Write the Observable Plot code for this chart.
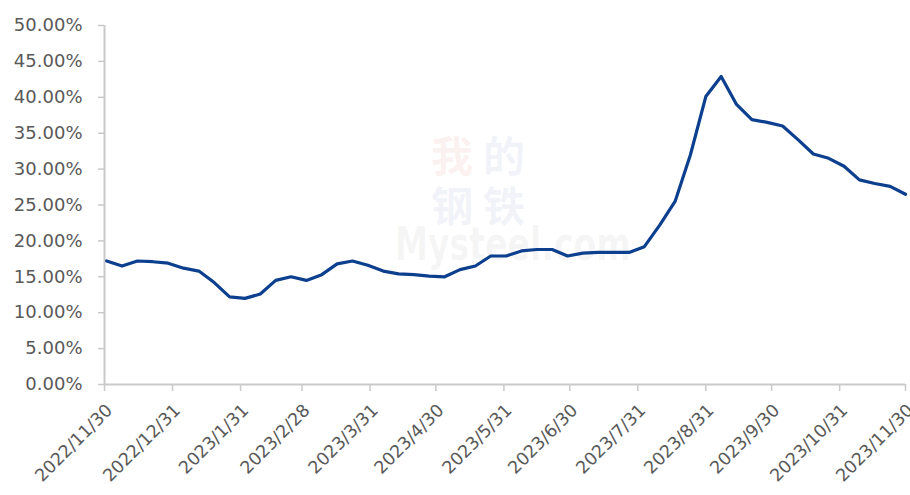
<!DOCTYPE html>
<html>
<head>
<meta charset="utf-8">
<script src="https://cdn.jsdelivr.net/npm/d3@7"></script>
<script src="https://cdn.jsdelivr.net/npm/@observablehq/plot@0.6"></script>
<style>
  html, body { margin: 0; padding: 0; background: #fff; }
  #wrap { position: relative; width: 910px; height: 495px; overflow: hidden; }
  .wm { position: absolute; pointer-events: none; font-family: "Noto Sans CJK SC", sans-serif; font-weight: bold; font-size: 42px; line-height: 42px; }
</style>
</head>
<body>
<div id="wrap">
  <div class="wm" style="left:431px;top:133px;color:rgba(225,110,110,0.10);">我</div>
  <div class="wm" style="left:483px;top:133px;color:rgba(110,130,185,0.10);">的</div>
  <div class="wm" style="left:431px;top:183px;color:rgba(110,130,185,0.10);">钢</div>
  <div class="wm" style="left:483px;top:183px;color:rgba(110,130,185,0.10);">铁</div>
  <div class="wm" style="left:395px;top:232px;font-family:'DejaVu Sans',sans-serif;font-size:46px;line-height:24px;transform:scaleX(0.72);transform-origin:left top;color:rgba(150,150,150,0.09);">Mysteel.com</div>
</div>
<script>
const dates = ["2022-12-01","2022-12-08","2022-12-15","2022-12-22","2022-12-29",
  "2023-01-05","2023-01-12","2023-01-19","2023-01-26",
  "2023-02-02","2023-02-09","2023-02-16","2023-02-23",
  "2023-03-02","2023-03-09","2023-03-16","2023-03-23","2023-03-30",
  "2023-04-06","2023-04-13","2023-04-20","2023-04-27",
  "2023-05-04","2023-05-11","2023-05-18","2023-05-25",
  "2023-06-01","2023-06-08","2023-06-15","2023-06-22","2023-06-29",
  "2023-07-06","2023-07-13","2023-07-20","2023-07-27",
  "2023-08-03","2023-08-10","2023-08-17","2023-08-24","2023-08-31",
  "2023-09-07","2023-09-14","2023-09-21","2023-09-28",
  "2023-10-05","2023-10-12","2023-10-19","2023-10-26",
  "2023-11-02","2023-11-09","2023-11-16","2023-11-23","2023-11-30"];
const values = [17.2,16.5,17.2,17.1,16.9,
  16.2,15.8,14.2,12.2,
  12.0,12.6,14.5,15.0,
  14.5,15.3,16.8,17.2,16.6,
  15.8,15.4,15.3,15.1,
  15.0,16.0,16.5,17.9,
  17.9,18.6,18.8,18.8,17.9,
  18.3,18.4,18.4,18.4,
  19.2,22.2,25.5,32.0,40.1,
  42.9,39.0,36.9,36.5,
  36.0,34.1,32.1,31.5,
  30.4,28.5,28.0,27.6,26.5];
const tickLabels = ["2022/11/30","2022/12/31","2023/1/31","2023/2/28","2023/3/31","2023/4/30",
  "2023/5/31","2023/6/30","2023/7/31","2023/8/31","2023/9/30","2023/10/31","2023/11/30"];
const yTicks = [0,0.05,0.10,0.15,0.20,0.25,0.30,0.35,0.40,0.45,0.50];

const parseISO = d3.utcParse("%Y-%m-%d");
const parseTick = d3.utcParse("%Y/%m/%d");
const data = dates.map((d, i) => ({date: parseISO(d), value: values[i] / 100}));
const tickDates = tickLabels.map(parseTick);
const labelOf = new Map(tickDates.map((d, i) => [+d, tickLabels[i]]));
const grey = "#595959";
const axisCol = "#c9c9c9";

const chart = Plot.plot({
  width: 910,
  height: 495,
  marginLeft: 104,
  marginRight: 5,
  marginTop: 25,
  marginBottom: 111,
  style: {fontFamily: "'DejaVu Sans', sans-serif", fontSize: "18px", color: grey, background: "transparent", overflow: "visible"},
  x: {type: "utc", domain: [tickDates[0], tickDates[tickDates.length - 1]]},
  y: {domain: [0, 0.5]},
  marks: [
    Plot.ruleX([tickDates[0]], {stroke: axisCol, strokeWidth: 2}),
    Plot.ruleY([0], {stroke: axisCol, strokeWidth: 2}),
    Plot.axisY({ticks: yTicks, tickFormat: d3.format(".2%"), tickSize: 6, tickPadding: 16, stroke: axisCol, strokeWidth: 1.5, label: null, fill: grey}),
    Plot.axisX({ticks: tickDates, tickFormat: d => labelOf.get(+d), tickSize: 7, tickPadding: 0, tickRotate: -45, stroke: axisCol, strokeWidth: 1.5, label: null, fill: grey, fontSize: 16, text: null}),
    Plot.axisX({ticks: tickDates, tickFormat: d => labelOf.get(+d), tickSize: 0, tickPadding: 23, tickRotate: -45, dx: 5, label: null, fill: grey, fontSize: 17.5}),
    Plot.line(data, {x: "date", y: "value", stroke: "#0d3f8f", strokeWidth: 3.2, strokeLinejoin: "round", strokeLinecap: "round"})
  ]
});
chart.style.position = "absolute";
chart.style.left = "0";
chart.style.top = "0";
document.getElementById("wrap").appendChild(chart);
</script>
</body>
</html>
